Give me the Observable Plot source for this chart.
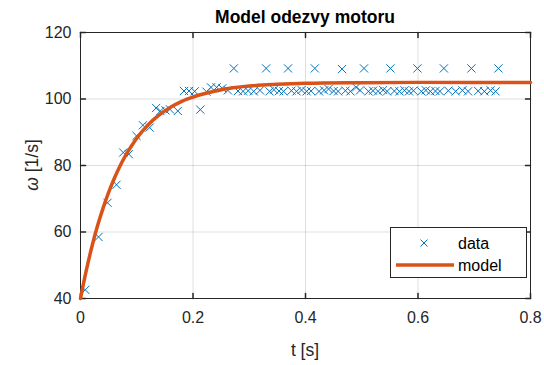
<!DOCTYPE html>
<html>
<head>
<meta charset="utf-8">
<script src="https://cdn.jsdelivr.net/npm/d3@7"></script>
<script src="https://cdn.jsdelivr.net/npm/@observablehq/plot@0.6"></script>
<style>
  html, body { margin: 0; padding: 0; background: #fff; }
  #wrap { position: relative; width: 544px; height: 365px; font-family: "Liberation Sans", Arial, sans-serif; }
  #legend { position: absolute; left: 390px; top: 227px; width: 137px; height: 51px; border: 1px solid #262626; background: #fff; box-sizing: border-box; }
</style>
</head>
<body>
<div id="wrap"></div>
<script>
// ---- data ----
const titleText = "Model odezvy motoru";
const xTicks = [0, 0.2, 0.4, 0.6, 0.8];
const yTicks = [40, 60, 80, 100, 120];

const dataT = [0.0085, 0.032, 0.048, 0.064, 0.076, 0.086, 0.0996, 0.111, 0.123, 0.1345,
  0.142, 0.151, 0.159, 0.173, 0.184, 0.193, 0.203, 0.213, 0.224, 0.232,
  0.242, 0.252, 0.262, 0.2726, 0.280, 0.289, 0.298, 0.308, 0.319, 0.330,
  0.336, 0.344, 0.353, 0.361, 0.369, 0.375, 0.384, 0.393, 0.402, 0.410,
  0.4166, 0.424, 0.433, 0.441, 0.450, 0.458, 0.465, 0.471, 0.480, 0.490,
  0.497, 0.504, 0.512, 0.520, 0.529, 0.538, 0.545, 0.551, 0.558, 0.567,
  0.576, 0.584, 0.592, 0.599, 0.606, 0.614, 0.622, 0.631, 0.639, 0.646,
  0.654, 0.667, 0.679, 0.689, 0.695, 0.707, 0.718, 0.729, 0.738, 0.743];
const dataW = [42.6, 58.5, 68.8, 74.2, 83.9, 83.4, 88.9, 92.1, 91.4, 97.3,
  96.4, 96.6, 96.9, 96.4, 102.4, 102.4, 102.3, 96.8, 102.2, 103.5,
  103.5, 103.2, 102.6, 109.2, 102.4, 102.3, 102.5, 102.3, 102.6, 109.2,
  102.3, 102.8, 102.4, 102.3, 109.2, 102.5, 102.3, 102.7, 102.3, 102.4,
  109.2, 102.3, 102.6, 103.0, 102.4, 102.3, 109.0, 102.5, 102.3, 103.5,
  102.6, 109.2, 102.3, 102.5, 102.3, 102.7, 102.3, 109.2, 102.4, 102.3,
  102.6, 102.3, 102.5, 109.2, 102.3, 102.6, 102.3, 102.4, 102.3, 109.2,
  102.5, 102.3, 102.6, 102.3, 109.2, 102.4, 102.3, 102.6, 102.3, 109.2];

const modelT = [0, 0.01, 0.02, 0.03, 0.04, 0.05, 0.06, 0.07, 0.08, 0.09, 0.10,
  0.12, 0.14, 0.16, 0.18, 0.20, 0.25, 0.30, 0.35, 0.40, 0.50, 0.60, 0.70, 0.80];
const modelW = [40, 48.2, 55.4, 61.7, 67.1, 71.9, 76.1, 79.8, 83.0, 85.7, 88.2,
  92.2, 95.2, 97.5, 99.3, 100.6, 102.8, 103.9, 104.4, 104.7, 104.9, 105.0, 105.0, 105.0];

const points = dataT.map((t, i) => ({t, w: dataW[i]}));
const model = modelT.map((t, i) => ({t, w: modelW[i]}));

const blue = "#0072BD", orange = "#D95319", ink = "#262626";
const font = "Liberation Sans, Arial, sans-serif";

const tickShape = {draw(ctx, l) { ctx.moveTo(0, 0); ctx.lineTo(0, -l); }};

const chart = Plot.plot({
  width: 544, height: 365,
  marginLeft: 80, marginRight: 14, marginTop: 32, marginBottom: 67,
  style: {fontFamily: font, color: ink, background: "#fff", overflow: "visible"},
  x: {domain: [0, 0.8]},
  y: {domain: [40, 120]},
  marks: [
    Plot.gridX(xTicks, {stroke: "#000", strokeOpacity: 0.13}),
    Plot.gridY(yTicks, {stroke: "#000", strokeOpacity: 0.13}),
    Plot.axisX(xTicks, {tickSize: 0, tickPadding: 13, fontSize: 16, fill: ink, label: null, tickFormat: d => String(d)}),
    Plot.axisY(yTicks, {tickSize: 0, tickPadding: 9, fontSize: 16, fill: ink, label: null, tickFormat: d => String(d)}),
    Plot.vector(xTicks, {x: d => d, frameAnchor: "bottom", length: 5, rotate: 0, anchor: "start", shape: tickShape, stroke: ink}),
    Plot.vector(xTicks, {x: d => d, frameAnchor: "top", length: 5, rotate: 180, anchor: "start", shape: tickShape, stroke: ink}),
    Plot.vector(yTicks, {y: d => d, frameAnchor: "left", length: 5, rotate: 90, anchor: "start", shape: tickShape, stroke: ink}),
    Plot.vector(yTicks, {y: d => d, frameAnchor: "right", length: 5, rotate: -90, anchor: "start", shape: tickShape, stroke: ink}),
    Plot.frame({stroke: ink}),
    Plot.dot(points, {x: "t", y: "w", symbol: "times", r: 3.8, stroke: blue, strokeWidth: 1}),
    Plot.line(model, {x: "t", y: "w", stroke: orange, strokeWidth: 3.5, curve: "monotone-x"})
  ]
});

const wrap = document.getElementById("wrap");
wrap.appendChild(chart);

const svg = d3.select(chart);
svg.append("text").attr("x", 305).attr("y", 23).attr("text-anchor", "middle")
  .attr("font-family", font).attr("font-size", 17.5).attr("font-weight", "bold").attr("fill", "#000")
  .text(titleText);
svg.append("text").attr("x", 305).attr("y", 356).attr("text-anchor", "middle")
  .attr("font-family", font).attr("font-size", 17.5).attr("fill", ink)
  .text("t [s]");
const yl = svg.append("text").attr("transform", "translate(38,165) rotate(-90)").attr("text-anchor", "middle")
  .attr("font-family", font).attr("font-size", 17.5).attr("fill", ink);
yl.append("tspan").attr("font-style", "italic").text("ω");
yl.append("tspan").text(" [1/s]");

// legend
const legendItems = [{label: "data", kind: "dot"}, {label: "model", kind: "line"}];
const leg = document.createElement("div");
leg.id = "legend";
wrap.appendChild(leg);
const ls = d3.select(leg).append("svg").attr("width", 137).attr("height", 51);
legendItems.forEach((d, i) => {
  const cy = 15 + i * 22;
  if (d.kind === "dot") {
    const s = 3.5;
    ls.append("path").attr("d", `M${33 - s},${cy - s}L${33 + s},${cy + s}M${33 - s},${cy + s}L${33 + s},${cy - s}`)
      .attr("stroke", blue).attr("stroke-width", 1).attr("fill", "none");
  } else {
    ls.append("line").attr("x1", 5).attr("x2", 63).attr("y1", cy).attr("y2", cy)
      .attr("stroke", orange).attr("stroke-width", 3.5);
  }
  ls.append("text").attr("x", 67).attr("y", cy + 5.5).attr("font-family", font).attr("font-size", 16)
    .attr("fill", "#000").text(d.label);
});
</script>
</body>
</html>
